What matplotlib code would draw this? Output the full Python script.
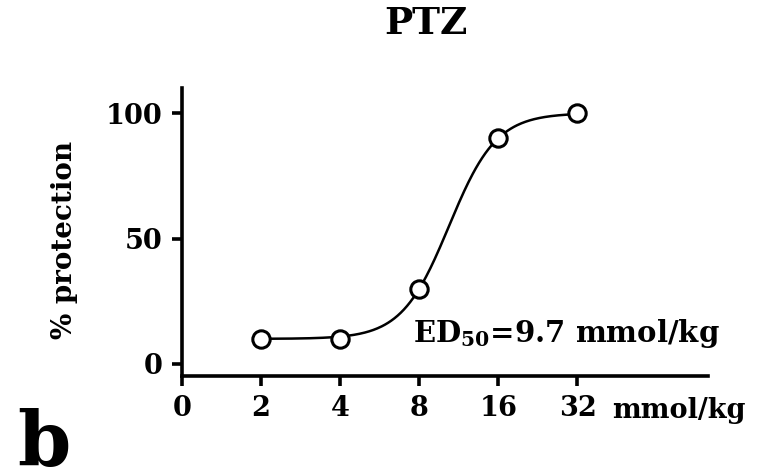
import numpy as np
import matplotlib
matplotlib.use("Agg")
import matplotlib.pyplot as plt

# ---- data ----
doses = [2, 4, 8, 16, 32]                 # mmol/kg
protection = [10, 10, 30, 90, 100]        # % protection
xtick_doses = [1, 2, 4, 8, 16, 32]        # tick positions (1 -> shown as "0")
xtick_labels = ["0", "2", "4", "8", "16", "32"]
ytick_vals = [0, 50, 100]
title = "PTZ"
ylabel = "% protection"
ed50_text = r"ED$_{50}$=9.7 mmol/kg"
unit_text = "mmol/kg"
panel_label = "b"

FONT = 'DejaVu Serif'
plt.rcParams['font.family'] = [FONT]
plt.rcParams['font.weight'] = 'bold'
plt.rcParams['mathtext.fontset'] = 'custom'
plt.rcParams['mathtext.rm'] = FONT + ':bold'
plt.rcParams['mathtext.it'] = FONT + ':bold'
plt.rcParams['mathtext.bf'] = FONT + ':bold'

W, H = 762, 475
fig = plt.figure(figsize=(W / 100, H / 100), dpi=100)
ax = fig.add_axes([182 / W, 1 - 376 / H, (708 - 182) / W, (376 - 88) / H])

lx = np.log2(doses)
y = np.array(protection, dtype=float)

# logistic (Hill) fit in log2 space from the data
bottom, top = y.min(), y.max()
mask = (y > bottom) & (y < top)
frac = (y[mask] - bottom) / (top - bottom)
logit = np.log(frac / (1 - frac))
slope, intercept = np.polyfit(lx[mask], logit, 1)
xs = np.linspace(lx.min(), lx.max(), 300)
ys = bottom + (top - bottom) / (1 + np.exp(-(slope * xs + intercept)))

ax.plot(xs, ys, color='black', lw=1.8, zorder=2)
ax.plot(lx, y, 'o', ms=12.5, mfc='white', mec='black', mew=2.2, zorder=3)

ax.set_xlim(0.02, 6.65)
ax.set_ylim(-4.8, 110)
ax.set_xticks(np.log2(xtick_doses))
ax.set_xticklabels(xtick_labels)
ax.set_yticks(ytick_vals)

for s in ['top', 'right']:
    ax.spines[s].set_visible(False)
for s in ['left', 'bottom']:
    ax.spines[s].set_linewidth(2.6)

ax.tick_params(axis='both', direction='out', length=7, width=2.6,
               labelsize=19.5, pad=7)
for lab in ax.get_xticklabels() + ax.get_yticklabels():
    lab.set_fontweight('bold')

fig.text(426 / W, 1 - 24 / H, title, ha='center', va='center',
         fontsize=27, fontweight='bold')
fig.text(64 / W, 1 - 240 / H, ylabel, ha='center', va='center',
         rotation=90, fontsize=20, fontweight='bold')
fig.text(612 / W, 1 - 410 / H, unit_text, ha='left', va='center',
         fontsize=19.5, fontweight='bold')
fig.text(413 / W, 1 - 334 / H, ed50_text, ha='left', va='center',
         fontsize=21, fontweight='bold')
fig.text(17 / W, 1 - 466 / H, panel_label, ha='left', va='baseline',
         fontsize=55, fontweight='bold')

fig.savefig("out.png", dpi=100)
